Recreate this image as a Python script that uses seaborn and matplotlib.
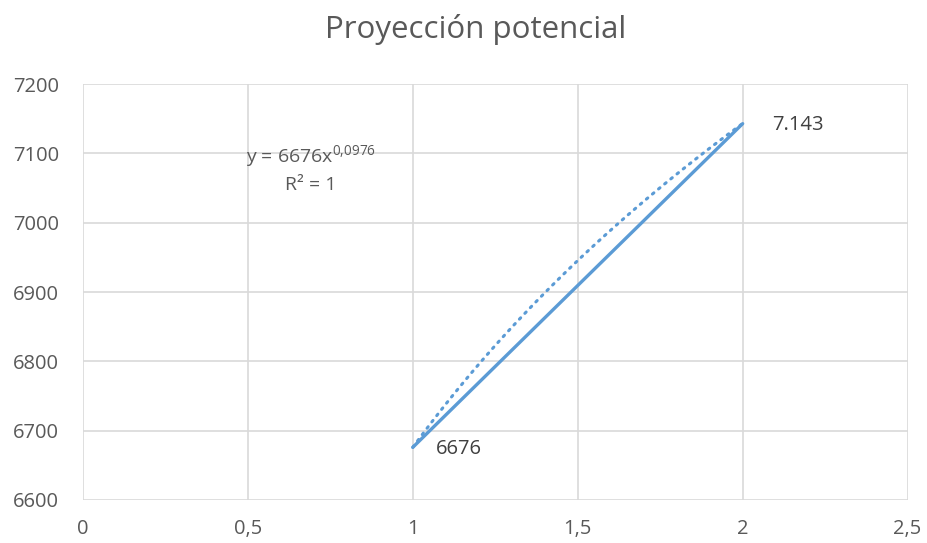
import numpy as np
import pandas as pd
import matplotlib
matplotlib.use("Agg")
import matplotlib.pyplot as plt
import seaborn as sns

x_vals = [1, 2]
y_vals = [6676, 7143]
coef = 6676
expo = 0.0976
label_texts = ["6676", "7.143"]
x_ticks = [0, 0.5, 1, 1.5, 2, 2.5]
x_tick_labels = ["0", "0,5", "1", "1,5", "2", "2,5"]
y_ticks = [6600, 6700, 6800, 6900, 7000, 7100, 7200]

sns.set_theme(style="white")
plt.rcParams['font.family'] = ['Open Sans', 'DejaVu Sans']
plt.rcParams['mathtext.fontset'] = 'custom'
plt.rcParams['mathtext.rm'] = 'Open Sans'
plt.rcParams['mathtext.it'] = 'Open Sans'

fig = plt.figure(figsize=(9.28, 5.43), dpi=100)
ax = fig.add_axes([0.0894, 0.0792, 0.8886, 0.7658])

color = "#5B9BD5"
df = pd.DataFrame({"x": x_vals, "y": y_vals})
tx = np.linspace(x_vals[0], x_vals[-1], 60)
tdf = pd.DataFrame({"x": tx, "y": coef * tx ** expo})
sns.lineplot(data=tdf, x="x", y="y", ax=ax, color=color, lw=2.2, linestyle=(0, (0.6, 2.0)),
             dash_capstyle="round")
sns.lineplot(data=df, x="x", y="y", ax=ax, color=color, lw=2.4)

ax.set_xlim(0, 2.5)
ax.set_ylim(6600, 7200)
ax.set_xticks(x_ticks)
ax.set_xticklabels(x_tick_labels)
ax.set_yticks(y_ticks)
ax.grid(True, color="#d9d9d9", lw=1.2)
ax.set_axisbelow(True)
for s in ax.spines.values():
    s.set_visible(False)
ax.tick_params(axis="both", length=0, labelsize=14.5, colors="#595959")
ax.tick_params(axis="y", pad=17)
ax.tick_params(axis="x", pad=14)
ax.set_xlabel("")
ax.set_ylabel("")

tc = "#404040"
ax.text(x_vals[0] + 0.07, y_vals[0] - 2, label_texts[0], fontsize=14.5, color=tc, va="center", ha="left")
ax.text(x_vals[1] + 0.088, y_vals[1] - 2, label_texts[1], fontsize=14.5, color=tc, va="center", ha="left")

ax.text(0.69, 7088, r"y = 6676x$^{0{,}0976}$", fontsize=14, color="#595959", ha="center", va="baseline")
ax.text(0.69, 7055, "R² = 1", fontsize=14, color="#595959", ha="center", va="center")

fig.text(0.512, 0.945, "Proyección potencial", fontsize=22.5, color="#595959", ha="center", va="center")

fig.savefig("out.png", dpi=100)
